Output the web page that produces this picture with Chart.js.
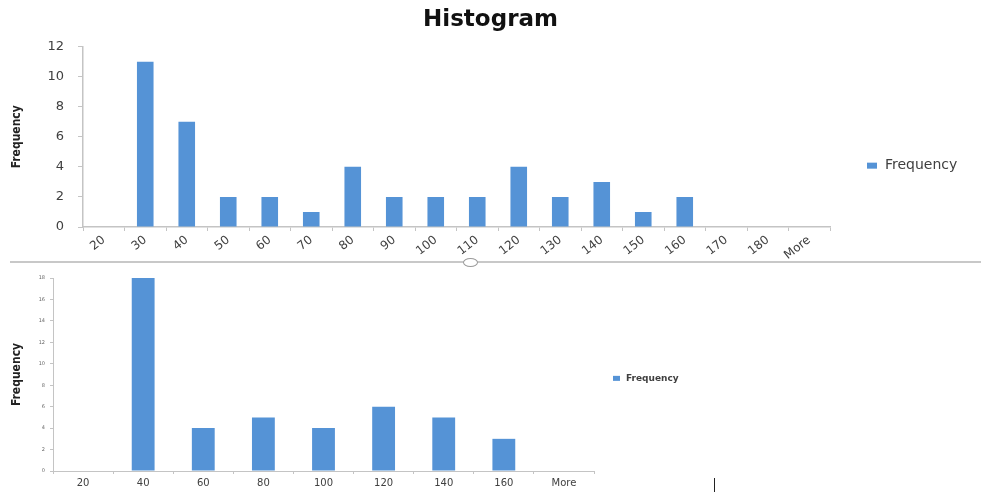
<!DOCTYPE html>
<html>
<head>
<meta charset="utf-8">
<script src="https://cdn.jsdelivr.net/npm/chart.js@4/dist/chart.umd.min.js"></script>
<style>
  html, body { margin: 0; padding: 0; background: #fff; }
  body { width: 981px; height: 493px; position: relative; overflow: hidden; }
  #topWrap { position: absolute; left: 0; top: 0; width: 981px; height: 262px; }
  #bottomWrap { position: absolute; left: 0; top: 266px; width: 720px; height: 227px; }
  #divider { position: absolute; left: 10px; top: 261px; width: 971px; height: 2px; background: #c8c8c8; }
  #handle { position: absolute; left: 463px; top: 258px; width: 13px; height: 7px; border: 1.5px solid #9a9a9a; border-radius: 50%; background: #fff; }
  #caret { position: absolute; left: 714px; top: 478px; width: 1px; height: 14px; background: #222; }
</style>
</head>
<body>
<div id="topWrap"><canvas id="topChart"></canvas></div>
<div id="divider"></div>
<div id="handle"></div>
<div id="bottomWrap"><canvas id="bottomChart"></canvas></div>
<div id="caret"></div>
<script>
// Bins of width 10
const binsBy10 = ['20', '30', '40', '50', '60', '70', '80', '90', '100', '110', '120', '130', '140', '150', '160', '170', '180', 'More'];
const countsBy10 = [0, 11, 7, 2, 2, 1, 4, 2, 2, 2, 4, 2, 3, 1, 2, 0, 0, 0];

// Bins of width 20
const binsBy20 = ['20', '40', '60', '80', '100', '120', '140', '160', 'More'];
const countsBy20 = [0, 18, 4, 5, 4, 6, 5, 3, 0];

const seriesName = 'Frequency';
const chartTitle = 'Histogram';
const barColor = '#5593d6';
const axisColor = '#c4c4c4';
const textColor = '#404040';
const narrowFont = '"Liberation Sans Narrow", "DejaVu Sans Condensed", "Liberation Sans", sans-serif';
const wideFont = '"DejaVu Sans", Verdana, sans-serif';

// Legend drawn as a single swatch + label in the space right of the plot
function sideLegend(opts) {
  return {
    id: 'sideLegend',
    afterDraw(chart) {
      const { ctx, chartArea } = chart;
      const x = chartArea.right + opts.dx;
      const y = chartArea.top + opts.fy * (chartArea.bottom - chartArea.top);
      ctx.save();
      ctx.fillStyle = barColor;
      ctx.fillRect(x, y - opts.box[1] / 2, opts.box[0], opts.box[1]);
      ctx.fillStyle = textColor;
      ctx.font = opts.font;
      ctx.textBaseline = 'middle';
      ctx.textAlign = 'left';
      ctx.fillText(chart.data.datasets[0].label, x + opts.box[0] + opts.gap, y);
      ctx.restore();
    }
  };
}

// Empty axis on the right that only reserves room for the legend
function legendGutter(width) {
  return {
    type: 'linear',
    position: 'right',
    display: true,
    afterFit(scale) { scale.width = width; },
    grid: { display: false, drawTicks: false },
    border: { display: false },
    ticks: { display: false },
    title: { display: false }
  };
}

Chart.defaults.animation = false;

new Chart(document.getElementById('topChart'), {
  type: 'bar',
  data: {
    labels: binsBy10,
    datasets: [{
      label: seriesName,
      data: countsBy10,
      backgroundColor: barColor,
      barPercentage: 0.8,
      categoryPercentage: 0.5
    }]
  },
  options: {
    responsive: true,
    maintainAspectRatio: false,
    layout: { padding: 0 },
    plugins: {
      legend: { display: false },
      tooltip: { enabled: false },
      title: {
        display: true,
        text: chartTitle,
        color: '#111',
        font: { family: wideFont, size: 23, weight: 'bold' },
        padding: { top: 6, bottom: 13 }
      }
    },
    scales: {
      x: {
        afterFit(scale) { scale.height = 35; },
        border: { color: axisColor, width: 1.5 },
        grid: { display: true, drawOnChartArea: false, drawTicks: true, tickLength: 4, color: axisColor, offset: true },
        ticks: {
          color: textColor,
          font: { family: wideFont, size: 12 },
          maxRotation: 38,
          minRotation: 38,
          autoSkip: false,
          padding: 2
        }
      },
      y: {
        min: 0,
        max: 12,
        afterFit(scale) { scale.width = 83; },
        border: { color: axisColor, width: 1.5 },
        grid: { display: true, drawOnChartArea: false, drawTicks: true, tickLength: 5, color: axisColor },
        ticks: {
          stepSize: 2,
          color: textColor,
          font: { family: wideFont, size: 13 },
          padding: 14
        },
        title: {
          display: true,
          text: seriesName,
          color: '#222',
          font: { family: narrowFont, size: 12, weight: 'bold' },
          padding: { top: 10, bottom: 0 }
        }
      },
      gutter: legendGutter(151)
    }
  },
  plugins: [sideLegend({ dx: 37, fy: 0.66, box: [10, 6], gap: 8, font: '14px ' + wideFont })]
});

new Chart(document.getElementById('bottomChart'), {
  type: 'bar',
  data: {
    labels: binsBy20,
    datasets: [{
      label: seriesName,
      data: countsBy20,
      backgroundColor: barColor,
      barPercentage: 0.76,
      categoryPercentage: 0.5
    }]
  },
  options: {
    responsive: true,
    maintainAspectRatio: false,
    layout: { padding: { left: 0, right: 0, top: 12, bottom: 0 } },
    plugins: {
      legend: { display: false },
      tooltip: { enabled: false }
    },
    scales: {
      x: {
        afterFit(scale) { scale.height = 22; },
        border: { color: axisColor, width: 1 },
        grid: { display: true, drawOnChartArea: false, drawTicks: true, tickLength: 3, color: axisColor, offset: true },
        ticks: {
          color: textColor,
          font: { family: wideFont, size: 10 },
          maxRotation: 0,
          autoSkip: false,
          padding: 3
        }
      },
      y: {
        min: 0,
        max: 18,
        afterFit(scale) { scale.width = 53; },
        border: { color: axisColor, width: 1 },
        grid: { display: true, drawOnChartArea: false, drawTicks: true, tickLength: 3, color: axisColor },
        ticks: {
          stepSize: 2,
          color: '#666',
          font: { family: wideFont, size: 5 },
          padding: 5
        },
        title: {
          display: true,
          text: seriesName,
          color: '#222',
          font: { family: narrowFont, size: 12, weight: 'bold' },
          padding: { top: 10, bottom: 0 }
        }
      },
      gutter: legendGutter(126)
    }
  },
  plugins: [sideLegend({ dx: 19, fy: 0.52, box: [7, 5], gap: 6, font: 'bold 9px ' + wideFont })]
});
</script>
</body>
</html>
